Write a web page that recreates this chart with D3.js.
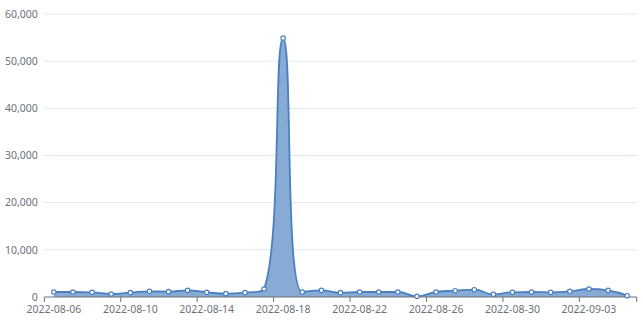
<!DOCTYPE html>
<html>
<head>
<meta charset="utf-8">
<script src="https://cdn.jsdelivr.net/npm/d3@7"></script>
<style>
  body { margin: 0; background: #fff; }
  svg text { font-family: "Noto Sans", "Open Sans", sans-serif; }
</style>
</head>
<body>
<div id="chart"></div>
<script>
// categories (one per day)
const dates = [
  "2022-08-06", "2022-08-07", "2022-08-08", "2022-08-09", "2022-08-10",
  "2022-08-11", "2022-08-12", "2022-08-13", "2022-08-14", "2022-08-15",
  "2022-08-16", "2022-08-17", "2022-08-18", "2022-08-19", "2022-08-20",
  "2022-08-21", "2022-08-22", "2022-08-23", "2022-08-24", "2022-08-25",
  "2022-08-26", "2022-08-27", "2022-08-28", "2022-08-29", "2022-08-30",
  "2022-08-31", "2022-09-01", "2022-09-02", "2022-09-03", "2022-09-04",
  "2022-09-05"
];
// series values
const values = [
  1060, 1060, 1000, 640, 920,
  1200, 1130, 1410, 1000, 710,
  920, 1700, 54900, 1060, 1410,
  920, 1060, 1060, 1060, 140,
  1060, 1340, 1550, 570, 1000,
  1060, 1000, 1200, 1700, 1410,
  280
];
const yTicks = [0, 10000, 20000, 30000, 40000, 50000, 60000];
const labelEvery = 4;

const W = 643, H = 324;
const margin = { top: 14, right: 6.3, bottom: 27, left: 44.3 };

// smooth bezier curve (control points clamped so the curve never passes its neighbours)
function SmoothCurve(context) { this._context = context; }
SmoothCurve.prototype = {
  areaStart() { this._line = 0; },
  areaEnd() { this._line = NaN; },
  lineStart() { this._pts = []; },
  point(x, y) { this._pts.push([+x, +y]); },
  lineEnd() {
    const ctx = this._context, p = this._pts, s = 0.5;
    const clamp = (v, a, b) => Math.max(Math.min(v, Math.max(a, b)), Math.min(a, b));
    let cp0x, cp0y;
    for (let i = 0; i < p.length; i++) {
      const [x, y] = p[i];
      if (i === 0) {
        if (this._line) ctx.lineTo(x, y); else ctx.moveTo(x, y);
        cp0x = x; cp0y = y;
        continue;
      }
      const [px, py] = p[i - 1];
      let cp1x, cp1y, ncx = x, ncy = y;
      if (i === p.length - 1) {
        cp1x = x; cp1y = y;
      } else {
        const [nx, ny] = p[i + 1];
        const lp = Math.hypot(x - px, y - py);
        const ln = Math.hypot(nx - x, ny - y);
        const r = ln / (ln + lp);
        let vx = nx - px, vy = ny - py;
        ncx = clamp(x + vx * s * r, nx, x);
        ncy = clamp(y + vy * s * r, ny, y);
        vx = ncx - x; vy = ncy - y;
        cp1x = clamp(x - vx * lp / ln, px, x);
        cp1y = clamp(y - vy * lp / ln, py, y);
        vx = x - cp1x; vy = y - cp1y;
        ncx = x + vx * ln / lp;
        ncy = y + vy * ln / lp;
      }
      ctx.bezierCurveTo(cp0x, cp0y, cp1x, cp1y, x, y);
      cp0x = ncx; cp0y = ncy;
    }
    if (this._line) ctx.closePath();
    this._line = 1 - this._line;
  }
};
const curveSmooth = ctx => new SmoothCurve(ctx);

const svg = d3.select("#chart")
  .append("svg")
  .attr("width", W)
  .attr("height", H);

const x = d3.scaleBand()
  .domain(dates)
  .range([margin.left, W - margin.right])
  .padding(0);

const y = d3.scaleLinear()
  .domain([0, 60000])
  .range([H - margin.bottom, margin.top]);

// gridlines
svg.append("g")
  .selectAll("line")
  .data(yTicks.filter(d => d > 0))
  .enter()
  .append("line")
  .attr("x1", margin.left)
  .attr("x2", W - margin.right)
  .attr("y1", d => y(d))
  .attr("y2", d => y(d))
  .attr("stroke", "#e0e6f1")
  .attr("stroke-width", 1);

// y labels
svg.append("g")
  .selectAll("text")
  .data(yTicks)
  .enter()
  .append("text")
  .attr("x", margin.left - 6.5)
  .attr("y", d => y(d))
  .attr("dy", "0.35em")
  .attr("text-anchor", "end")
  .style("font-size", "10.5px")
  .style("fill", "#6e7079")
  .text(d => d3.format(",")(d));

// area + line
const pts = dates.map((d, i) => ({ date: d, v: values[i] }));
const cx = d => x(d.date) + x.bandwidth() / 2;

svg.append("path")
  .datum(pts)
  .attr("fill", "#87abd5")
  .attr("d", d3.area()
    .x(cx)
    .y0(y(0))
    .y1(d => y(d.v))
    .curve(curveSmooth));

svg.append("path")
  .datum(pts)
  .attr("fill", "none")
  .attr("stroke", "#4b80c0")
  .attr("stroke-width", 1.8)
  .attr("d", d3.line()
    .x(cx)
    .y(d => y(d.v))
    .curve(curveSmooth));

// x axis with ticks on the band boundaries
const xAxis = svg.append("g")
  .attr("transform", `translate(0,${y(0)})`);

xAxis.append("line")
  .attr("x1", margin.left)
  .attr("x2", W - margin.right)
  .attr("stroke", "#6e7079");

const tickPos = dates
  .filter((d, i) => i % labelEvery === 0)
  .map(d => x(d))
  .concat([W - margin.right]);

xAxis.selectAll(".tick")
  .data(tickPos)
  .enter()
  .append("line")
  .attr("x1", d => d)
  .attr("x2", d => d)
  .attr("y1", 0)
  .attr("y2", 5)
  .attr("stroke", "#6e7079");

xAxis.selectAll(".lbl")
  .data(dates.filter((d, i) => i % labelEvery === 0))
  .enter()
  .append("text")
  .attr("x", d => x(d) + x.bandwidth() / 2)
  .attr("y", 15.5)
  .attr("text-anchor", "middle")
  .style("font-size", "10.5px")
  .style("fill", "#6e7079")
  .text(d => d);

// points
svg.append("g")
  .selectAll("circle")
  .data(pts)
  .enter()
  .append("circle")
  .attr("cx", cx)
  .attr("cy", d => y(d.v))
  .attr("r", 2.2)
  .attr("fill", "#fff")
  .attr("stroke", "#4b80c0")
  .attr("stroke-width", 1.2);
</script>
</body>
</html>
